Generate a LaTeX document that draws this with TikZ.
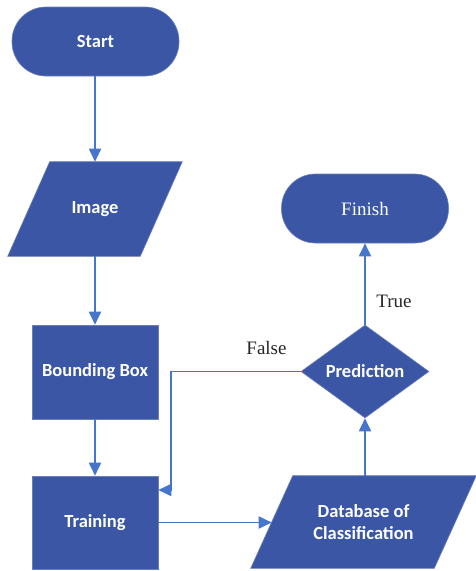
\documentclass[tikz,border=0pt]{standalone}
\usepackage{fontspec}
\setmainfont{Liberation Serif}
\newfontfamily\boxfont{Carlito}
\usetikzlibrary{shapes.geometric,arrows.meta,calc}
\definecolor{boxblue}{RGB}{58,86,165}
\definecolor{lineblue}{RGB}{70,118,204}
\begin{document}
\begin{tikzpicture}[x=1pt,y=-1pt,
  base/.style={fill=boxblue, draw=boxblue!75!white, line width=0.6pt, text=white, font=\boxfont\bfseries\fontsize{18.5}{22}\selectfont, inner sep=0pt},
  term/.style={base, rectangle, rounded corners=34pt, minimum width=167pt, minimum height=69pt},
  proc/.style={base, rectangle, minimum width=126pt, minimum height=94pt},
  iobody/.style={base, rectangle, fill=none, draw=none},
  iofill/.style={fill=boxblue, draw=boxblue!75!white, line width=0.6pt},
  dec/.style={base, diamond, minimum width=128pt, minimum height=93pt},
  conn/.style={draw=lineblue, line width=1.8pt, -{Triangle[width=12pt,length=13pt]}},
  lbl/.style={font=\fontsize{19}{22}\selectfont, text=black!85, inner sep=0pt}
]
\useasboundingbox[fill=white] (0,0) rectangle (476,571);

% parallelogram bodies (text holders)
\node[iobody, minimum width=132pt, minimum height=94pt] (image) at (95,209) {};
\node[iobody, minimum width=183pt, minimum height=92pt] (db) at (363.5,522) {};
\fill[iofill] ($(image.north west)+(21,0)$) -- ($(image.north east)+(21,0)$) -- ($(image.south east)+(-21,0)$) -- ($(image.south west)+(-21,0)$) -- cycle;
\fill[iofill] ($(db.north west)+(21,0)$) -- ($(db.north east)+(21,0)$) -- ($(db.south east)+(-21,0)$) -- ($(db.south west)+(-21,0)$) -- cycle;
\node[base, fill=none, draw=none] (imagetext) at (image.center) {Image};
\node[base, fill=none, draw=none, align=center] (dbtext) at (db.center) {Database of\\Classification};

\node[term] (start) at (95.5,41.5) {Start};
\node[proc] (bbox) at (95,372) {Bounding Box};
\node[proc, minimum height=93pt] (train) at (95,522.5) {Training};
\node[dec] (pred) at (365,371.5) {};
\node[base, fill=none, draw=none] (predtext) at (pred.center) {Prediction};
\node[term, font=\fontsize{19}{22}\selectfont] (finish) at (365,208.5) {Finish};

\node[lbl, anchor=base] (truelbl) at (394,307) {True};
\node[lbl, anchor=base] (falselbl) at (266.5,354) {False};

\coordinate (fb) at (171,490);

\draw[conn] (image.north |- start.south) -- (image.north);
\draw[conn] (image) -- (bbox);
\draw[conn] (bbox) -- (train);
\draw[conn] (train.east) -- (train.east -| db.west);
\draw[conn] (pred.south |- db.north) -- (pred.south);
\draw[conn] (pred) -- (finish);
\draw[conn] (pred.west) -| (fb) -- (train.east |- fb);
\end{tikzpicture}
\end{document}
